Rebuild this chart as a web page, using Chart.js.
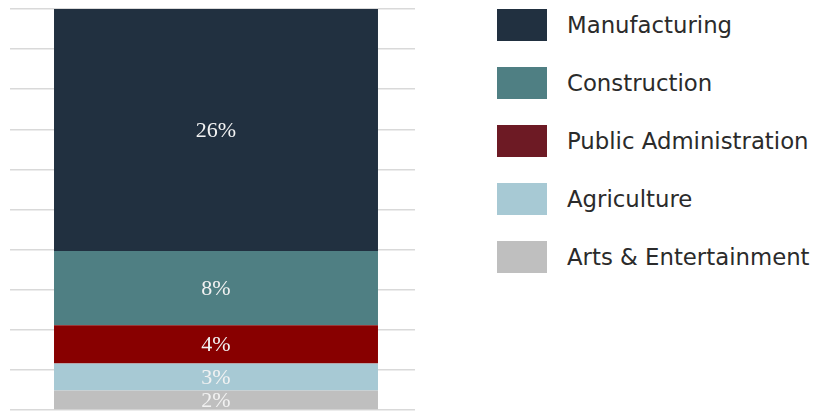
<!DOCTYPE html>
<html>
<head>
<meta charset="utf-8">
<script src="https://cdn.jsdelivr.net/npm/chart.js@4/dist/chart.umd.min.js"></script>
<style>
  html, body { margin: 0; padding: 0; background: #fff; }
  #wrap { position: relative; width: 825px; height: 411px; }
  #chartBox { position: absolute; left: 0; top: 0; width: 416px; height: 411px; }
  #legend { position: absolute; left: 497px; top: 9px; font-family: "DejaVu Sans", sans-serif; font-size: 22.8px; color: #2b2b2b; white-space: nowrap; }
  .item { display: flex; align-items: center; height: 32px; margin-bottom: 26px; }
  .swatch { width: 50px; height: 32px; margin-right: 20px; flex: none; }
</style>
</head>
<body>
<div id="wrap">
  <div id="chartBox"><canvas id="shareChart"></canvas></div>
  <div id="legend"></div>
</div>
<script>
document.addEventListener("DOMContentLoaded", function() {

    // bottom to top in the stack
    const sectors = ['Arts & Entertainment', 'Agriculture', 'Public Administration', 'Construction', 'Manufacturing'];
    const shares = [2.1, 2.9, 4.1, 8.0, 26.0];
    const shareLabels = ['2%', '3%', '4%', '8%', '26%'];
    const barColors = ['#bfbfbf', '#a7c9d4', '#880000', '#4f7f83', '#213040'];
    const legendColors = ['#bfbfbf', '#a7c9d4', '#6d1a24', '#4f7f83', '#213040'];

    const total = shares.reduce((a, b) => a + b, 0);

    // write the share text in the middle of each segment
    const segmentLabels = {
        id: 'segmentLabels',
        afterDatasetsDraw(chart) {
            const ctx = chart.ctx;
            ctx.save();
            ctx.font = '22px "Liberation Serif", serif';
            ctx.fillStyle = '#f2f2f2';
            ctx.textAlign = 'center';
            ctx.textBaseline = 'middle';
            chart.data.datasets.forEach((ds, i) => {
                const bar = chart.getDatasetMeta(i).data[0];
                const yMid = (bar.y + bar.base) / 2;
                ctx.fillText(shareLabels[i], bar.x, yMid + 1);
            });
            ctx.restore();
        }
    };

    const chartCtx = document.getElementById('shareChart').getContext('2d');
    new Chart(chartCtx, {
        type: 'bar',
        data: {
            labels: [''],
            datasets: sectors.map((name, i) => ({
                label: name,
                data: [shares[i]],
                backgroundColor: barColors[i],
                borderWidth: 0,
                barPercentage: 1,
                categoryPercentage: 0.814
            }))
        },
        options: {
            responsive: true,
            maintainAspectRatio: false,
            animation: false,
            layout: { padding: { left: 10, right: 1, top: 9, bottom: 1 } },
            plugins: {
                legend: { display: false },
                tooltip: { enabled: false }
            },
            scales: {
                x: { stacked: true, display: false },
                y: {
                    stacked: true,
                    min: 0,
                    max: total,
                    ticks: { display: false, count: 11, padding: 0 },
                    border: { display: false },
                    grid: { color: '#d9d9d9', lineWidth: 1.5, drawTicks: true, tickLength: 7 }
                }
            }
        },
        plugins: [segmentLabels]
    });

    // legend, top item first
    const legend = document.getElementById('legend');
    for (let i = sectors.length - 1; i >= 0; i--) {
        const row = document.createElement('div');
        row.className = 'item';
        row.innerHTML = '<span class="swatch" style="background:' + legendColors[i] + '"></span>' + sectors[i];
        legend.appendChild(row);
    }
});
</script>
</body>
</html>
